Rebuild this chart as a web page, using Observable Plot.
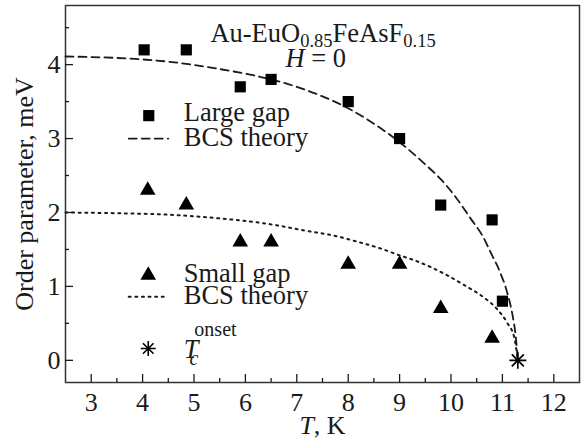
<!DOCTYPE html>
<html><head><meta charset="utf-8">
<script src="https://cdn.jsdelivr.net/npm/d3@7"></script>
<script src="https://cdn.jsdelivr.net/npm/@observablehq/plot@0.6"></script>
<style>body{margin:0;background:#fff} svg text{font-family:'Liberation Serif','Times New Roman',serif}</style>
</head><body><div id="chart"></div>
<script>
// Measured data (T in K, gap in meV)
const largeT   = [4.03, 4.85, 5.9, 6.5, 8.0, 9.0, 9.8, 10.8, 11.0];
const largeGap = [4.2, 4.2, 3.7, 3.8, 3.5, 3.0, 2.1, 1.9, 0.8];
const smallT   = [4.1, 4.85, 5.9, 6.5, 8.0, 9.0, 9.8, 10.8];
const smallGap = [2.3, 2.1, 1.6, 1.6, 1.3, 1.3, 0.7, 0.3];
const tcT   = [11.3];
const tcGap = [0];
// BCS theory curves
const bcsLargeT   = [2.5, 3.5, 4.5, 5.5, 6.5, 7.0, 7.5, 8.0, 8.5, 9.0, 9.5, 9.8, 10.1, 10.4, 10.6, 10.8, 10.95, 11.1, 11.2, 11.26, 11.3];
const bcsLargeGap = [4.11, 4.09, 4.04, 3.94, 3.8, 3.7, 3.57, 3.41, 3.2, 2.95, 2.65, 2.45, 2.2, 1.9, 1.7, 1.42, 1.2, 0.9, 0.6, 0.32, 0];
const bcsSmallT   = [2.5, 3.5, 4.5, 5.5, 6.4, 7.2, 7.7, 8.2, 8.6, 9.0, 9.3, 9.9, 10.3, 10.6, 10.9, 11.1, 11.23, 11.3];
const bcsSmallGap = [2.0, 1.99, 1.97, 1.92, 1.85, 1.75, 1.69, 1.6, 1.52, 1.42, 1.35, 1.16, 1.0, 0.87, 0.69, 0.5, 0.31, 0];
// Ticks
const xTicks = [3, 4, 5, 6, 7, 8, 9, 10, 11, 12];
const xMinor = [3.5, 4.5, 5.5, 6.5, 7.5, 8.5, 9.5, 10.5, 11.5];
const yTicks = [0, 1, 2, 3, 4];
const yMinor = [0.5, 1.5, 2.5, 3.5, 4.5];
// Texts
const titleText = "Au-EuO0.85FeAsF0.15";
const fieldText = "H = 0";
const legendLabels = ["Large gap", "BCS theory", "Small gap", "BCS theory", "Tconset"];
const xLabel = "T, K";
const yLabel = "Order parameter, meV";

const pts = (xs, ys) => xs.map((x, i) => ({x, y: ys[i]}));

const W = 581, H = 441, ML = 65, MR = 2, MT = 5, MB = 59;
const PW = W - ML - MR, PH = H - MT - MB;
const ink = "#1a1a1a";
const SERIF = "Liberation Serif";

const asterisk8 = {
  draw(ctx, size) {
    const r = Math.sqrt(size / Math.PI), d = r * Math.SQRT1_2;
    ctx.moveTo(0, -r); ctx.lineTo(0, r);
    ctx.moveTo(-r, 0); ctx.lineTo(r, 0);
    ctx.moveTo(-d, -d); ctx.lineTo(d, d);
    ctx.moveTo(-d, d); ctx.lineTo(d, -d);
  }
};

const plot = Plot.plot({
  width: W, height: H,
  marginLeft: ML, marginRight: MR, marginTop: MT, marginBottom: MB,
  style: {fontFamily: SERIF, fontSize: "26px", color: ink, background: "white"},
  x: {domain: [2.5, 12.5]},
  y: {domain: [-0.3, 4.8]},
  marks: [
    Plot.frame({stroke: "#333", strokeWidth: 1.5}),
    Plot.axisX({ticks: xTicks, tickFormat: d => String(d), tickSize: 0, tickPadding: 10, label: null, fontFamily: SERIF, fontSize: 26}),
    Plot.axisY({ticks: yTicks, tickFormat: d => String(d), tickSize: 0, tickPadding: 5, label: null, fontFamily: SERIF, fontSize: 26}),
    Plot.ruleX(xTicks, {x: d => d, insetTop: PH - 8, stroke: ink, strokeWidth: 1.3}),
    Plot.ruleX(xMinor, {x: d => d, insetTop: PH - 4, stroke: ink, strokeWidth: 1.3}),
    Plot.ruleY(yTicks, {y: d => d, insetRight: PW - 8, stroke: ink, strokeWidth: 1.3}),
    Plot.ruleY(yMinor, {y: d => d, insetRight: PW - 4, stroke: ink, strokeWidth: 1.3}),
    // theory curves
    Plot.line(pts(bcsLargeT, bcsLargeGap), {x: "x", y: "y", curve: "monotone-x", stroke: ink, strokeWidth: 1.8, strokeDasharray: "8,5"}),
    Plot.line(pts(bcsSmallT, bcsSmallGap), {x: "x", y: "y", curve: "monotone-x", stroke: ink, strokeWidth: 2, strokeDasharray: "2,4.6"}),
    // data
    Plot.dot(pts(largeT, largeGap), {x: "x", y: "y", symbol: "square", r: 6.3, fill: "#000", stroke: "none"}),
    Plot.dot(pts(smallT, smallGap), {x: "x", y: "y", symbol: "triangle", r: 5.8, fill: "#000", stroke: "none"}),
    Plot.dot(pts(tcT, tcGap), {x: "x", y: "y", symbol: asterisk8, r: 8.5, fill: "none", stroke: "#000", strokeWidth: 1.7}),
    // legend
    Plot.dot([0], {x: 4.12, y: 3.31, symbol: "square", r: 6.3, fill: "#000", stroke: "none"}),
    Plot.line([3.73, 4.5], {x: d => d, y: 3.0, stroke: ink, strokeWidth: 1.8, strokeDasharray: "8,5"}),
    Plot.dot([0], {x: 4.11, y: 1.15, symbol: "triangle", r: 5.8, fill: "#000", stroke: "none"}),
    Plot.line([3.73, 4.5], {x: d => d, y: 0.86, stroke: ink, strokeWidth: 2, strokeDasharray: "2,4.6"}),
    Plot.dot([0], {x: 4.11, y: 0.16, symbol: asterisk8, r: 7.5, fill: "none", stroke: "#000", strokeWidth: 1.6}),
    Plot.text(legendLabels, {x: 4.8, y: [3.35, 3.02, 1.17, 0.87, 0.15], text: d => d, textAnchor: "start", lineAnchor: "middle", fill: ink, fontFamily: SERIF, fontSize: 26.5}),
    // annotations
    Plot.text([titleText], {x: 7.51, y: 4.42, text: d => d, textAnchor: "middle", lineAnchor: "middle", fontSize: 26.5, fontFamily: SERIF, fill: ink}),
    Plot.text([fieldText], {x: 7.37, y: 4.08, text: d => d, textAnchor: "middle", lineAnchor: "middle", fontSize: 26.5, fontFamily: SERIF, fill: ink}),
    // axis labels
    Plot.text([xLabel], {frameAnchor: "bottom", dy: 43, text: d => d, textAnchor: "middle", lineAnchor: "middle", fill: ink, fontFamily: SERIF, fontSize: 26}),
    Plot.text([yLabel], {frameAnchor: "left", dx: -41, rotate: -90, text: d => d, textAnchor: "middle", lineAnchor: "middle", fill: ink, fontFamily: SERIF, fontSize: 26})
  ]
});

function rich(svg, plain, parts) {
  svg.querySelectorAll("text").forEach(t => {
    if (t.textContent !== plain) return;
    t.textContent = "";
    for (const p of parts) {
      const s = document.createElementNS("http://www.w3.org/2000/svg", "tspan");
      s.textContent = p.t;
      if (p.italic) s.setAttribute("font-style", "italic");
      if (p.size) s.setAttribute("font-size", p.size);
      if (p.dy) s.setAttribute("dy", p.dy);
      if (p.dx) s.setAttribute("dx", p.dx);
      t.appendChild(s);
    }
  });
}
rich(plot, titleText, [{t: "Au-EuO"}, {t: "0.85", size: 18.5, dy: 5}, {t: "FeAsF", dy: -5}, {t: "0.15", size: 18.5, dy: 5}]);
rich(plot, fieldText, [{t: "H", italic: true}, {t: " = 0"}]);
rich(plot, xLabel, [{t: "T", italic: true}, {t: ", K"}]);
rich(plot, "Tconset", [{t: "T", italic: true}, {t: "c", italic: true, size: 20, dy: 7, dx: -9}, {t: "onset", size: 20, dy: -29, dx: -4}]);

document.getElementById("chart").appendChild(plot);
</script>
</body></html>
